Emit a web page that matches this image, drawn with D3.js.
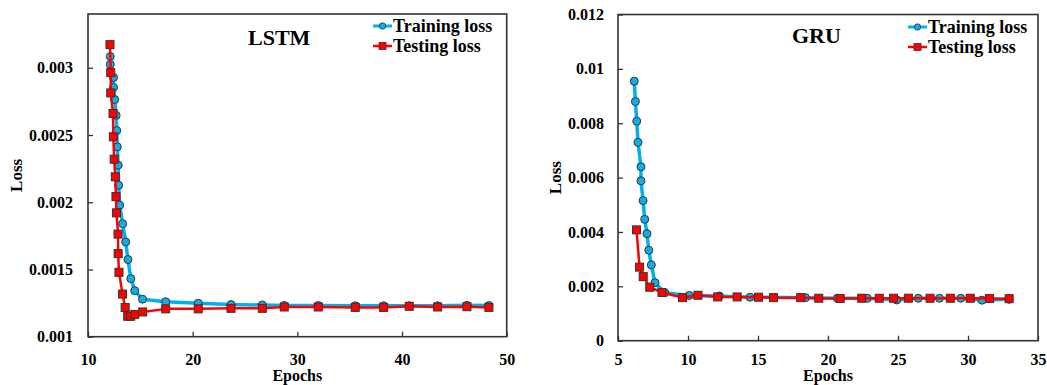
<!DOCTYPE html>
<html>
<head>
<meta charset="utf-8">
<script src="https://cdn.jsdelivr.net/npm/d3@7"></script>
<style>
  html, body { margin: 0; padding: 0; background: #fff; }
  svg { display: block; }
  text { font-family: "Liberation Serif", "Times New Roman", serif; font-weight: bold; fill: #000; }
</style>
</head>
<body>
<svg id="chart" width="1047" height="385"></svg>
<script>
// ---------- DATA ----------
const lstmTrainEpochs = [12.13, 12.13, 12.44, 12.44, 12.55, 12.69, 12.75, 12.80, 12.88, 12.93, 13.03, 13.31, 13.60, 13.82, 14.09, 14.47, 15.21, 17.42, 20.53, 23.66, 26.65, 28.75, 32.00, 35.53, 38.24, 40.69, 43.40, 46.20, 48.30];
const lstmTrainLoss   = [0.003084, 0.003025, 0.002928, 0.002853, 0.002764, 0.002646, 0.002533, 0.002412, 0.002276, 0.002126, 0.001978, 0.001840, 0.001705, 0.001574, 0.001432, 0.001342, 0.001279, 0.001260, 0.001249, 0.001239, 0.001236, 0.001232, 0.001232, 0.001230, 0.001230, 0.001230, 0.001230, 0.001233, 0.001232];
const lstmTestEpochs  = [12.10, 12.17, 12.17, 12.39, 12.42, 12.50, 12.61, 12.67, 12.72, 12.87, 12.88, 12.96, 13.30, 13.55, 13.79, 14.08, 14.47, 15.22, 17.42, 20.53, 23.66, 26.65, 28.75, 32.00, 35.53, 38.24, 40.69, 43.40, 46.20, 48.30];
const lstmTestLoss    = [0.003172, 0.002964, 0.002813, 0.002660, 0.002487, 0.002320, 0.002189, 0.002042, 0.001921, 0.001763, 0.001618, 0.001479, 0.001317, 0.001217, 0.001152, 0.001152, 0.001166, 0.001184, 0.001207, 0.001207, 0.001211, 0.001211, 0.001221, 0.001221, 0.001218, 0.001218, 0.001226, 0.001221, 0.001223, 0.001218];

const gruTrainEpochs = [6.16, 6.24, 6.34, 6.43, 6.64, 6.64, 6.79, 6.91, 7.07, 7.20, 7.38, 7.64, 8.34, 10.09, 12.24, 14.43, 18.39, 20.66, 22.81, 24.91, 26.45, 27.96, 29.49, 31.00, 32.93];
const gruTrainLoss   = [0.009547, 0.008799, 0.008074, 0.007297, 0.006398, 0.005882, 0.005153, 0.004464, 0.003937, 0.003330, 0.002788, 0.002133, 0.001764, 0.001665, 0.001646, 0.001599, 0.001584, 0.001562, 0.001562, 0.001499, 0.001562, 0.001562, 0.001562, 0.001492, 0.001525];
const gruTestEpochs  = [6.32, 6.54, 6.80, 7.27, 8.14, 9.61, 10.71, 12.12, 13.51, 15.04, 16.11, 18.05, 19.34, 20.87, 22.41, 23.66, 24.68, 25.74, 27.29, 28.74, 30.16, 31.54, 32.94];
const gruTestLoss    = [0.004077, 0.002707, 0.002357, 0.001967, 0.001775, 0.001584, 0.001672, 0.001610, 0.001610, 0.001599, 0.001584, 0.001584, 0.001562, 0.001554, 0.001562, 0.001562, 0.001562, 0.001562, 0.001562, 0.001562, 0.001562, 0.001554, 0.001547];

const lstmXTicks = [10, 20, 30, 40, 50];
const lstmYTicks = [0.001, 0.0015, 0.002, 0.0025, 0.003];
const lstmYTickLabels = ["0.001", "0.0015", "0.002", "0.0025", "0.003"];
const gruXTicks = [5, 10, 15, 20, 25, 30, 35];
const gruYTicks = [0, 0.002, 0.004, 0.006, 0.008, 0.01, 0.012];
const gruYTickLabels = ["0", "0.002", "0.004", "0.006", "0.008", "0.01", "0.012"];

const seriesNames = ["Training loss", "Testing loss"];
const panelTitles = ["LSTM", "GRU"];
const xTitle = "Epochs";
const yTitle = "Loss";

// ---------- STYLE ----------
const trainColor = "#10aee8";
const trainLine = "#00b0f0";
const testColor = "#ff0000";
const markerStroke = "#333";
const frameColor = "#333";

const svg = d3.select("#chart");

function drawPanel(cfg) {
  const g = svg.append("g");
  const x = d3.scaleLinear().domain(cfg.xDomain).range([cfg.left, cfg.right]);
  const y = d3.scaleLinear().domain(cfg.yDomain).range([cfg.bottom, cfg.top]);

  // x axis
  const xAxis = d3.axisBottom(x).tickValues(cfg.xTicks).tickSizeInner(-5).tickSizeOuter(0)
    .tickPadding(cfg.xPad).tickFormat(d3.format("d"));
  const gx = g.append("g").attr("transform", `translate(0,${cfg.bottom})`).call(xAxis);
  gx.select(".domain").remove();
  gx.selectAll("line").attr("stroke", frameColor).attr("stroke-width", 1.3);
  gx.selectAll("text").attr("font-size", 16).attr("font-family", "Liberation Serif").attr("font-weight", "bold").attr("fill", "#000");

  // y axis
  const yAxis = d3.axisLeft(y).tickValues(cfg.yTicks).tickSizeInner(-5).tickSizeOuter(0)
    .tickPadding(cfg.yPad).tickFormat((d, i) => cfg.yTickLabels[i]);
  const gy = g.append("g").attr("transform", `translate(${cfg.left},0)`).call(yAxis);
  gy.select(".domain").remove();
  gy.selectAll("line").attr("stroke", frameColor).attr("stroke-width", 1.3);
  gy.selectAll("text").attr("font-size", 16).attr("font-family", "Liberation Serif").attr("font-weight", "bold").attr("fill", "#000");

  // frame
  g.append("rect").attr("x", cfg.left).attr("y", cfg.top)
    .attr("width", cfg.right - cfg.left).attr("height", cfg.bottom - cfg.top)
    .attr("fill", "none").attr("stroke", frameColor).attr("stroke-width", 1.6);

  // axis titles
  g.append("text").attr("x", (cfg.left + cfg.right) / 2).attr("y", 381)
    .attr("text-anchor", "middle").attr("font-size", 16).text(xTitle);
  g.append("text").attr("transform", `translate(${cfg.yTitleX},${(cfg.top + cfg.bottom) / 2}) rotate(-90)`)
    .attr("text-anchor", "middle").attr("dy", "0.35em").attr("font-size", 17).text(yTitle);

  // panel title
  g.append("text").attr("x", cfg.titleX).attr("y", cfg.titleY).attr("font-size", 22).text(cfg.title);

  const line = d3.line().x(d => x(d[0])).y(d => y(d[1]));
  const train = cfg.trainX.map((v, i) => [v, cfg.trainY[i]]);
  const test = cfg.testX.map((v, i) => [v, cfg.testY[i]]);

  g.append("path").datum(train).attr("d", line).attr("fill", "none")
    .attr("stroke", trainLine).attr("stroke-width", 3.5).attr("stroke-linejoin", "round");
  g.selectAll("circle.tr").data(train).enter().append("circle").attr("class", "tr")
    .attr("cx", d => x(d[0])).attr("cy", d => y(d[1])).attr("r", 4)
    .attr("fill", trainColor).attr("stroke", markerStroke).attr("stroke-width", 1);

  g.append("path").datum(test).attr("d", line).attr("fill", "none")
    .attr("stroke", testColor).attr("stroke-width", 2.5).attr("stroke-linejoin", "round");
  const s = 8;
  g.selectAll("rect.te").data(test).enter().append("rect").attr("class", "te")
    .attr("x", d => x(d[0]) - s / 2).attr("y", d => y(d[1]) - s / 2)
    .attr("width", s).attr("height", s)
    .attr("fill", testColor).attr("stroke", markerStroke).attr("stroke-width", 1);

  // legend
  const lg = g.append("g");
  const lx = cfg.legendX;
  [0, 1].forEach(i => {
    const ly = cfg.legendY + i * 20;
    const col = i === 0 ? trainLine : testColor;
    lg.append("line").attr("x1", lx).attr("x2", lx + 19).attr("y1", ly).attr("y2", ly)
      .attr("stroke", col).attr("stroke-width", i === 0 ? 3 : 2.5);
    if (i === 0) {
      lg.append("circle").attr("cx", lx + 9.5).attr("cy", ly).attr("r", 3.2)
        .attr("fill", trainColor).attr("stroke", markerStroke).attr("stroke-width", 0.8);
    } else {
      lg.append("rect").attr("x", lx + 9.5 - 3.5).attr("y", ly - 3.5).attr("width", 7).attr("height", 7)
        .attr("fill", testColor).attr("stroke", markerStroke).attr("stroke-width", 0.8);
    }
    lg.append("text").attr("x", lx + 20).attr("y", ly + 5.5).attr("font-size", 18).text(seriesNames[i]);
  });
}

drawPanel({
  left: 88, right: 506.7, top: 14, bottom: 336.7,
  xDomain: [10, 50], yDomain: [0.001, 0.0034],
  xTicks: lstmXTicks, yTicks: lstmYTicks, yTickLabels: lstmYTickLabels,
  xPad: 17, yPad: 15, yTitleX: 16,
  title: panelTitles[0], titleX: 248, titleY: 45,
  trainX: lstmTrainEpochs, trainY: lstmTrainLoss, testX: lstmTestEpochs, testY: lstmTestLoss,
  legendX: 373, legendY: 26
});

drawPanel({
  left: 618, right: 1038, top: 14.5, bottom: 340.7,
  xDomain: [5, 35], yDomain: [0, 0.012],
  xTicks: gruXTicks, yTicks: gruYTicks, yTickLabels: gruYTickLabels,
  xPad: 13, yPad: 14, yTitleX: 555,
  title: panelTitles[1], titleX: 792, titleY: 43,
  trainX: gruTrainEpochs, trainY: gruTrainLoss, testX: gruTestEpochs, testY: gruTestLoss,
  legendX: 908, legendY: 27
});
</script>
</body>
</html>
